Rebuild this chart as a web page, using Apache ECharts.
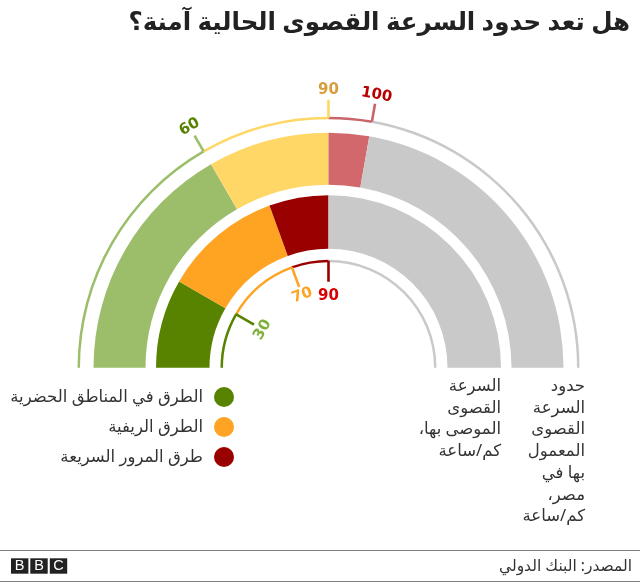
<!DOCTYPE html>
<html dir="rtl"><head><meta charset="utf-8">
<style>html,body{margin:0;padding:0;background:#fff}#c{position:absolute;left:0;top:0;width:640px;height:582px}</style>
<script src="https://cdn.jsdelivr.net/npm/echarts@6/dist/echarts.min.js"></script>
</head><body><div id="c"></div>
<script>
const titleText = 'هل تعد حدود السرعة القصوى الحالية آمنة؟';
const sourceText = 'المصدر: البنك الدولي';
const columnEnforced = ['حدود','السرعة','القصوى','المعمول','بها في','مصر،','كم/ساعة'];
const columnRecommended = ['السرعة','القصوى','الموصى بها،','كم/ساعة'];
const roadNames = ['الطرق في المناطق الحضرية','الطرق الريفية','طرق المرور السريعة'];
const enforcedLimits = [60, 90, 100];
const recommendedLimits = [30, 70, 90];
const scaleMax = 180;
const enforcedColors = ['#9cbe6b','#ffd766','#d2686c'];
const recommendedColors = ['#588300','#fea322','#990000'];
const enforcedLabelColors = ['#588300','#d69e3c','#b80000'];
const recommendedLabelColors = ['#7fb13a','#fea322','#d80000'];
const enforcedArcColors = ['#9cbe6b','#ffd766','#c8646a'];
const greyColor = '#c9c9c9';

const FONT = '"Noto Sans","DejaVu Sans",sans-serif';
const CX = 328.5, CY = 367.7;

function slices(limits, colors, names){
  const out = []; let prev = 0;
  limits.forEach((v,i)=>{ out.push({value:v-prev,name:names?names[i]:'s'+v,itemStyle:{color:colors[i]}}); prev=v; });
  out.push({value:scaleMax-prev,name:'rest',itemStyle:{color:greyColor}});
  return out;
}
function pie(radius, data){
  return {type:'pie',center:[CX,CY],radius,startAngle:180,endAngle:0,clockwise:true,silent:true,
    label:{show:false},labelLine:{show:false},emphasis:{disabled:true},data,
    itemStyle:{borderWidth:0},animation:false};
}
function ticks(limits, from, to, arcColors){
  return limits.map((v,i)=>({type:'line',coordinateSystem:'polar',symbol:'none',silent:true,animation:false,z:3,
    lineStyle:{color:arcColors[i],width:2.6},data:[[from,v],[to,v]]}));
}
function labels(limits, radii, colors, size){
  return limits.map((v,i)=>({type:'scatter',coordinateSystem:'polar',symbolSize:0,silent:true,animation:false,z:4,
    itemStyle:{opacity:1},
    label:{show:true,position:'inside',formatter:String(v),rotate:90-v,color:colors[i],fontFamily:'"DejaVu Sans",sans-serif',fontWeight:700,fontSize:size,
      align:'center',verticalAlign:'middle'},
    data:[[radii[i],v]]}));
}
const chart = echarts.init(document.getElementById('c'),null,{renderer:'canvas'});
const txt=(o)=>({type:'text',silent:true,style:Object.assign({fontFamily:FONT,fill:'#222'},o)});
const lineH = 21.7;
const logoBoxes = [[11,'B'],[30.3,'B'],[49.8,'C']];
chart.setOption({
  animation:false,
  backgroundColor:'#fff',
  polar:{center:[CX,CY],radius:300},
  radiusAxis:{min:0,max:300,show:false},
  angleAxis:{min:0,max:360,startAngle:180,clockwise:true,show:false},
  legend:{orient:'vertical',right:401,top:382,align:'right',itemWidth:20,itemHeight:20,itemGap:10,icon:'circle',
    selectedMode:false,data:roadNames,textStyle:{fontFamily:FONT,fontSize:16.5,color:'#333',padding:[0,6,0,0]}},
  series:[
    pie([119,172.5],slices(recommendedLimits,recommendedColors,roadNames)),
    pie([183,235],slices(enforcedLimits,enforcedColors)),
    pie([248.5,251],slices(enforcedLimits,enforcedArcColors)),
    pie([105.5,108],slices(recommendedLimits,recommendedColors)),
    ...ticks(enforcedLimits,250,268,enforcedArcColors),
    ...ticks(recommendedLimits,107,86,recommendedColors),
    ...labels(enforcedLimits,[278,278,277],enforcedLabelColors,15),
    ...labels(recommendedLimits,[76,77,72],recommendedLabelColors,15)
  ],
  graphic:[
    txt({text:titleText,x:630,y:23,align:'right',verticalAlign:'middle',fontWeight:700,fontSize:24.5,fill:'#222'}),
    txt({text:columnEnforced.join('\n'),x:585,y:375.5,align:'right',verticalAlign:'top',fontSize:16.5,lineHeight:lineH,fill:'#333'}),
    txt({text:columnRecommended.join('\n'),x:501,y:375.5,align:'right',verticalAlign:'top',fontSize:16.5,lineHeight:lineH,fill:'#333'}),
    txt({text:sourceText,x:632,y:567,align:'right',verticalAlign:'middle',fontSize:15.5,fill:'#333'}),
    {type:'rect',silent:true,shape:{x:0,y:550,width:640,height:1},style:{fill:'#808080'}},
    {type:'rect',silent:true,shape:{x:0,y:581,width:640,height:1},style:{fill:'#808080'}},
    ...logoBoxes.flatMap(([x,ch])=>[
      {type:'rect',silent:true,shape:{x,y:558.3,width:17.4,height:15.4},style:{fill:'#222'}},
      {type:'text',silent:true,style:{text:ch,x:x+8.7,y:566.4,align:'center',verticalAlign:'middle',fontWeight:400,fontSize:14.5,fontFamily:'"Liberation Sans",sans-serif',fill:'#fff'}}
    ])
  ]
});
</script></body></html>
